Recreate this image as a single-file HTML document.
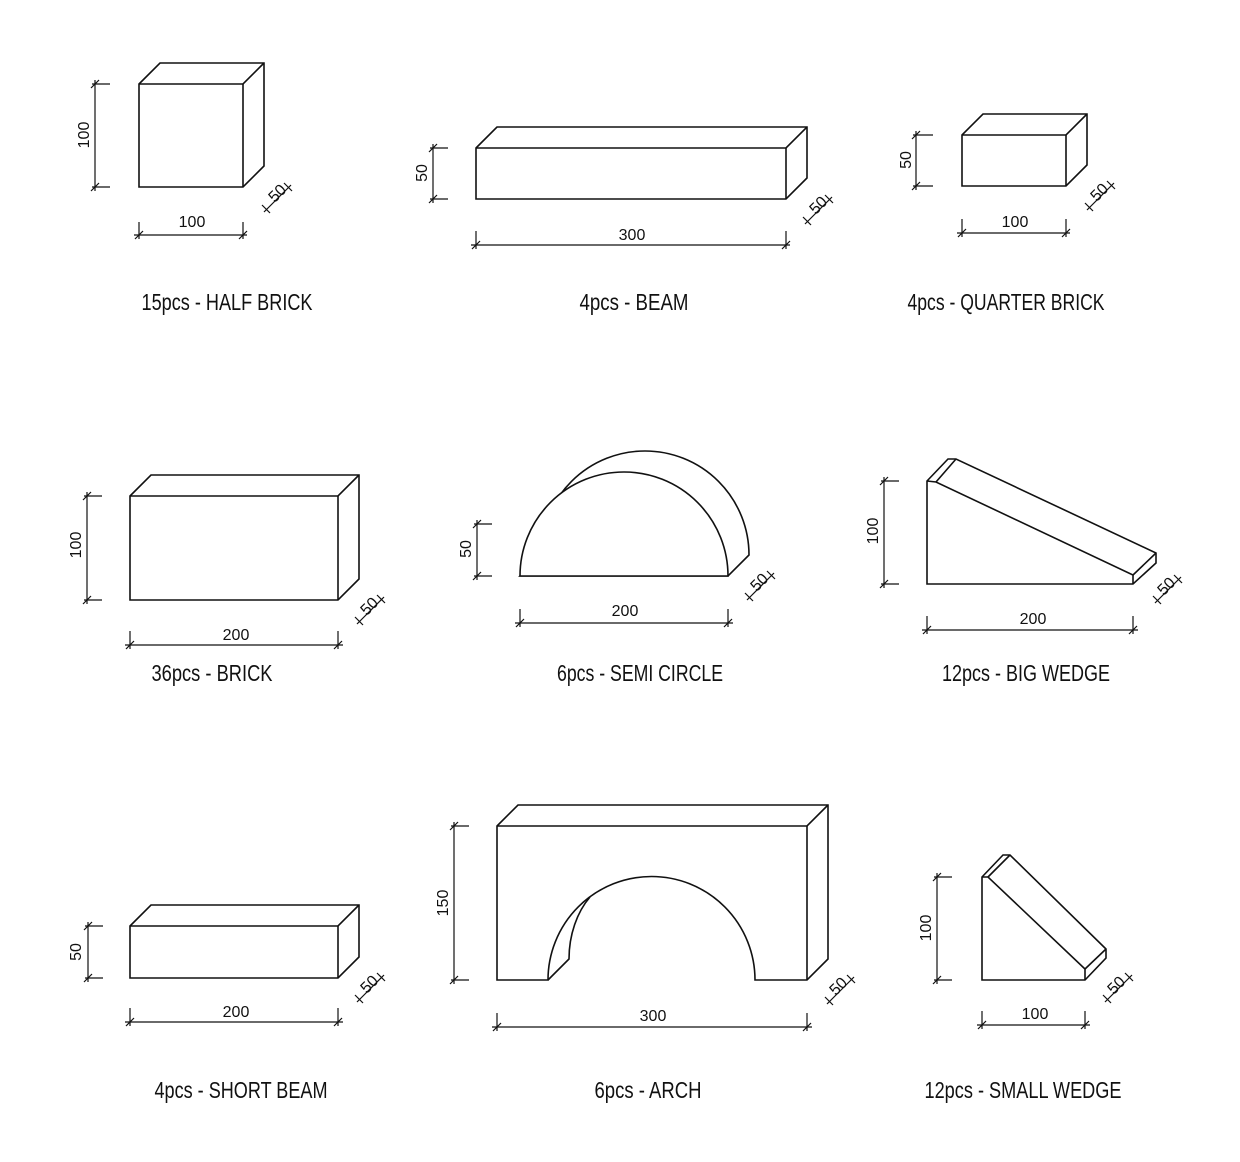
<!DOCTYPE html>
<html><head><meta charset="utf-8"><style>
html,body{margin:0;padding:0;background:#fff;}
svg{display:block}
.s{fill:#fff;stroke:#111;stroke-width:1.6;stroke-linejoin:miter}
.l{fill:none;stroke:#111;stroke-width:1.6}
.d{fill:none;stroke:#111;stroke-width:1.2}
.t{font-family:"Liberation Sans",sans-serif;font-size:16px;fill:#111}
.c{font-family:"Liberation Sans",sans-serif;font-size:23px;fill:#111}
</style></head><body>
<svg width="1240" height="1162" viewBox="0 0 1240 1162" xmlns="http://www.w3.org/2000/svg">
<!-- HALF BRICK -->
<polygon class="s" points="139,84 160,63 264,63 264,166 243,187 139,187"/>
<polyline class="l" points="139,84 243,84 264,63"/><line class="l" x1="243" y1="84" x2="243" y2="187"/>
<g class="d"><line x1="95" y1="80" x2="95" y2="191"/><line x1="92" y1="84" x2="110" y2="84"/><line x1="92" y1="187" x2="110" y2="187"/><line x1="91" y1="88" x2="99" y2="80"/><line x1="91" y1="191" x2="99" y2="183"/>
<line x1="134" y1="235" x2="247" y2="235"/><line x1="139" y1="222" x2="139" y2="239"/><line x1="243" y1="222" x2="243" y2="239"/><line x1="135" y1="239" x2="143" y2="231"/><line x1="239" y1="239" x2="247" y2="231"/>
<line x1="264" y1="212" x2="291" y2="185"/><line x1="262" y1="205" x2="270" y2="213"/><line x1="284" y1="183" x2="292" y2="191"/></g>
<text class="t" transform="translate(89,135) rotate(-90)" text-anchor="middle">100</text>
<text class="t" x="192" y="227" text-anchor="middle">100</text>
<text class="t" transform="translate(281,197) rotate(-45)" text-anchor="middle">50</text>
<text class="c" x="227" y="310" text-anchor="middle" textLength="171" lengthAdjust="spacingAndGlyphs">15pcs - HALF BRICK</text>

<!-- BEAM -->
<polygon class="s" points="476,148 497,127 807,127 807,178 786,199 476,199"/>
<polyline class="l" points="476,148 786,148 807,127"/><line class="l" x1="786" y1="148" x2="786" y2="199"/>
<g class="d"><line x1="433" y1="144" x2="433" y2="203"/><line x1="430" y1="148" x2="448" y2="148"/><line x1="430" y1="199" x2="448" y2="199"/><line x1="429" y1="152" x2="437" y2="144"/><line x1="429" y1="203" x2="437" y2="195"/>
<line x1="471" y1="245" x2="790" y2="245"/><line x1="476" y1="231" x2="476" y2="249"/><line x1="786" y1="231" x2="786" y2="249"/><line x1="472" y1="249" x2="480" y2="241"/><line x1="782" y1="249" x2="790" y2="241"/>
<line x1="805" y1="224" x2="832" y2="197"/><line x1="803" y1="217" x2="811" y2="225"/><line x1="825" y1="195" x2="833" y2="203"/></g>
<text class="t" transform="translate(427,173) rotate(-90)" text-anchor="middle">50</text>
<text class="t" x="632" y="240" text-anchor="middle">300</text>
<text class="t" transform="translate(822,209) rotate(-45)" text-anchor="middle">50</text>
<text class="c" x="634" y="310" text-anchor="middle" textLength="109" lengthAdjust="spacingAndGlyphs">4pcs - BEAM</text>

<!-- QUARTER BRICK -->
<polygon class="s" points="962,135 983,114 1087,114 1087,165 1066,186 962,186"/>
<polyline class="l" points="962,135 1066,135 1087,114"/><line class="l" x1="1066" y1="135" x2="1066" y2="186"/>
<g class="d"><line x1="916" y1="131" x2="916" y2="190"/><line x1="913" y1="135" x2="933" y2="135"/><line x1="913" y1="186" x2="933" y2="186"/><line x1="912" y1="139" x2="920" y2="131"/><line x1="912" y1="190" x2="920" y2="182"/>
<line x1="957" y1="233" x2="1070" y2="233"/><line x1="962" y1="219" x2="962" y2="237"/><line x1="1066" y1="219" x2="1066" y2="237"/><line x1="958" y1="237" x2="966" y2="229"/><line x1="1062" y1="237" x2="1070" y2="229"/>
<line x1="1087" y1="210" x2="1114" y2="183"/><line x1="1085" y1="203" x2="1093" y2="211"/><line x1="1107" y1="181" x2="1115" y2="189"/></g>
<text class="t" transform="translate(911,160) rotate(-90)" text-anchor="middle">50</text>
<text class="t" x="1015" y="227" text-anchor="middle">100</text>
<text class="t" transform="translate(1103,196) rotate(-45)" text-anchor="middle">50</text>
<text class="c" x="1006" y="310" text-anchor="middle" textLength="197" lengthAdjust="spacingAndGlyphs">4pcs - QUARTER BRICK</text>

<!-- BRICK -->
<polygon class="s" points="130,496 151,475 359,475 359,579 338,600 130,600"/>
<polyline class="l" points="130,496 338,496 359,475"/><line class="l" x1="338" y1="496" x2="338" y2="600"/>
<g class="d"><line x1="87" y1="492" x2="87" y2="604"/><line x1="84" y1="496" x2="102" y2="496"/><line x1="84" y1="600" x2="102" y2="600"/><line x1="83" y1="500" x2="91" y2="492"/><line x1="83" y1="604" x2="91" y2="596"/>
<line x1="125" y1="645" x2="343" y2="645"/><line x1="130" y1="631" x2="130" y2="649"/><line x1="338" y1="631" x2="338" y2="649"/><line x1="126" y1="649" x2="134" y2="641"/><line x1="334" y1="649" x2="342" y2="641"/>
<line x1="357" y1="624" x2="384" y2="597"/><line x1="355" y1="617" x2="363" y2="625"/><line x1="377" y1="595" x2="385" y2="603"/></g>
<text class="t" transform="translate(81,545) rotate(-90)" text-anchor="middle">100</text>
<text class="t" x="236" y="640" text-anchor="middle">200</text>
<text class="t" transform="translate(373,610) rotate(-45)" text-anchor="middle">50</text>
<text class="c" x="212" y="681" text-anchor="middle" textLength="121" lengthAdjust="spacingAndGlyphs">36pcs - BRICK</text>

<!-- SEMI CIRCLE -->
<path class="s" d="M541,555 A104,104 0 0 1 749,555 L728,576 L520,576 Z"/>
<path class="s" d="M520,576 A104,104 0 0 1 728,576 Z"/>
<g class="d"><line x1="477" y1="520" x2="477" y2="580"/><line x1="474" y1="524" x2="492" y2="524"/><line x1="474" y1="576" x2="492" y2="576"/><line x1="473" y1="528" x2="481" y2="520"/><line x1="473" y1="580" x2="481" y2="572"/>
<line x1="515" y1="623" x2="733" y2="623"/><line x1="520" y1="609" x2="520" y2="627"/><line x1="728" y1="609" x2="728" y2="627"/><line x1="516" y1="627" x2="524" y2="619"/><line x1="724" y1="627" x2="732" y2="619"/>
<line x1="747" y1="600" x2="774" y2="573"/><line x1="745" y1="593" x2="753" y2="601"/><line x1="767" y1="571" x2="775" y2="579"/></g>
<text class="t" transform="translate(471,549) rotate(-90)" text-anchor="middle">50</text>
<text class="t" x="625" y="616" text-anchor="middle">200</text>
<text class="t" transform="translate(763,586) rotate(-45)" text-anchor="middle">50</text>
<text class="c" x="640" y="681" text-anchor="middle" textLength="166" lengthAdjust="spacingAndGlyphs">6pcs - SEMI CIRCLE</text>

<!-- BIG WEDGE -->
<polygon class="s" points="927,481 948,459 956,459 1156,553 1156,563 1133,584 927,584"/>
<polyline class="l" points="927,481 936,482 1133,575 1133,584"/>
<line class="l" x1="936" y1="482" x2="956" y2="459"/><line class="l" x1="1133" y1="575" x2="1156" y2="553"/>
<g class="d"><line x1="884" y1="477" x2="884" y2="588"/><line x1="881" y1="481" x2="899" y2="481"/><line x1="881" y1="584" x2="899" y2="584"/><line x1="880" y1="485" x2="888" y2="477"/><line x1="880" y1="588" x2="888" y2="580"/>
<line x1="922" y1="630" x2="1138" y2="630"/><line x1="927" y1="616" x2="927" y2="634"/><line x1="1133" y1="616" x2="1133" y2="634"/><line x1="923" y1="634" x2="931" y2="626"/><line x1="1129" y1="634" x2="1137" y2="626"/>
<line x1="1155" y1="603" x2="1181" y2="577"/><line x1="1153" y1="596" x2="1161" y2="604"/><line x1="1174" y1="575" x2="1182" y2="583"/></g>
<text class="t" transform="translate(878,531) rotate(-90)" text-anchor="middle">100</text>
<text class="t" x="1033" y="624" text-anchor="middle">200</text>
<text class="t" transform="translate(1170,590) rotate(-45)" text-anchor="middle">50</text>
<text class="c" x="1026" y="681" text-anchor="middle" textLength="168" lengthAdjust="spacingAndGlyphs">12pcs - BIG WEDGE</text>

<!-- SHORT BEAM -->
<polygon class="s" points="130,926 151,905 359,905 359,957 338,978 130,978"/>
<polyline class="l" points="130,926 338,926 359,905"/><line class="l" x1="338" y1="926" x2="338" y2="978"/>
<g class="d"><line x1="88" y1="922" x2="88" y2="982"/><line x1="85" y1="926" x2="103" y2="926"/><line x1="85" y1="978" x2="103" y2="978"/><line x1="84" y1="930" x2="92" y2="922"/><line x1="84" y1="982" x2="92" y2="974"/>
<line x1="125" y1="1022" x2="343" y2="1022"/><line x1="130" y1="1008" x2="130" y2="1026"/><line x1="338" y1="1008" x2="338" y2="1026"/><line x1="126" y1="1026" x2="134" y2="1018"/><line x1="334" y1="1026" x2="342" y2="1018"/>
<line x1="357" y1="1002" x2="384" y2="975"/><line x1="355" y1="995" x2="363" y2="1003"/><line x1="377" y1="973" x2="385" y2="981"/></g>
<text class="t" transform="translate(81,952) rotate(-90)" text-anchor="middle">50</text>
<text class="t" x="236" y="1017" text-anchor="middle">200</text>
<text class="t" transform="translate(373,988) rotate(-45)" text-anchor="middle">50</text>
<text class="c" x="241" y="1098" text-anchor="middle" textLength="173" lengthAdjust="spacingAndGlyphs">4pcs - SHORT BEAM</text>

<!-- ARCH -->
<path class="s" d="M497,826 L518,805 L828,805 L828,959 L807,980 L755,980 A103.5,103.5 0 0 0 548,980 L497,980 Z"/>
<polyline class="l" points="497,826 807,826 828,805"/><line class="l" x1="807" y1="826" x2="807" y2="980"/>
<path class="l" d="M548,980 L569,959 C569,935 577,912 590,897"/>
<g class="d"><line x1="454" y1="822" x2="454" y2="984"/><line x1="451" y1="826" x2="469" y2="826"/><line x1="451" y1="980" x2="469" y2="980"/><line x1="450" y1="830" x2="458" y2="822"/><line x1="450" y1="984" x2="458" y2="976"/>
<line x1="492" y1="1027" x2="812" y2="1027"/><line x1="497" y1="1013" x2="497" y2="1031"/><line x1="807" y1="1013" x2="807" y2="1031"/><line x1="493" y1="1031" x2="501" y2="1023"/><line x1="803" y1="1031" x2="811" y2="1023"/>
<line x1="827" y1="1004" x2="854" y2="977"/><line x1="825" y1="997" x2="833" y2="1005"/><line x1="847" y1="975" x2="855" y2="983"/></g>
<text class="t" transform="translate(448,903) rotate(-90)" text-anchor="middle">150</text>
<text class="t" x="653" y="1021" text-anchor="middle">300</text>
<text class="t" transform="translate(842,990) rotate(-45)" text-anchor="middle">50</text>
<text class="c" x="648" y="1098" text-anchor="middle" textLength="107" lengthAdjust="spacingAndGlyphs">6pcs - ARCH</text>

<!-- SMALL WEDGE -->
<polygon class="s" points="982,877 1003,855 1010,855 1106,949 1106,958 1085,980 982,980"/>
<polyline class="l" points="982,877 988,877 1085,969 1085,980"/>
<line class="l" x1="988" y1="877" x2="1010" y2="855"/><line class="l" x1="1085" y1="969" x2="1106" y2="949"/>
<g class="d"><line x1="937" y1="873" x2="937" y2="984"/><line x1="934" y1="877" x2="952" y2="877"/><line x1="934" y1="980" x2="952" y2="980"/><line x1="933" y1="881" x2="941" y2="873"/><line x1="933" y1="984" x2="941" y2="976"/>
<line x1="977" y1="1025" x2="1090" y2="1025"/><line x1="982" y1="1011" x2="982" y2="1029"/><line x1="1085" y1="1011" x2="1085" y2="1029"/><line x1="978" y1="1029" x2="986" y2="1021"/><line x1="1081" y1="1029" x2="1089" y2="1021"/>
<line x1="1105" y1="1002" x2="1132" y2="975"/><line x1="1103" y1="995" x2="1111" y2="1003"/><line x1="1125" y1="973" x2="1133" y2="981"/></g>
<text class="t" transform="translate(931,928) rotate(-90)" text-anchor="middle">100</text>
<text class="t" x="1035" y="1019" text-anchor="middle">100</text>
<text class="t" transform="translate(1120,989) rotate(-45)" text-anchor="middle">50</text>
<text class="c" x="1023" y="1098" text-anchor="middle" textLength="197" lengthAdjust="spacingAndGlyphs">12pcs - SMALL WEDGE</text>
</svg>
</body></html>
